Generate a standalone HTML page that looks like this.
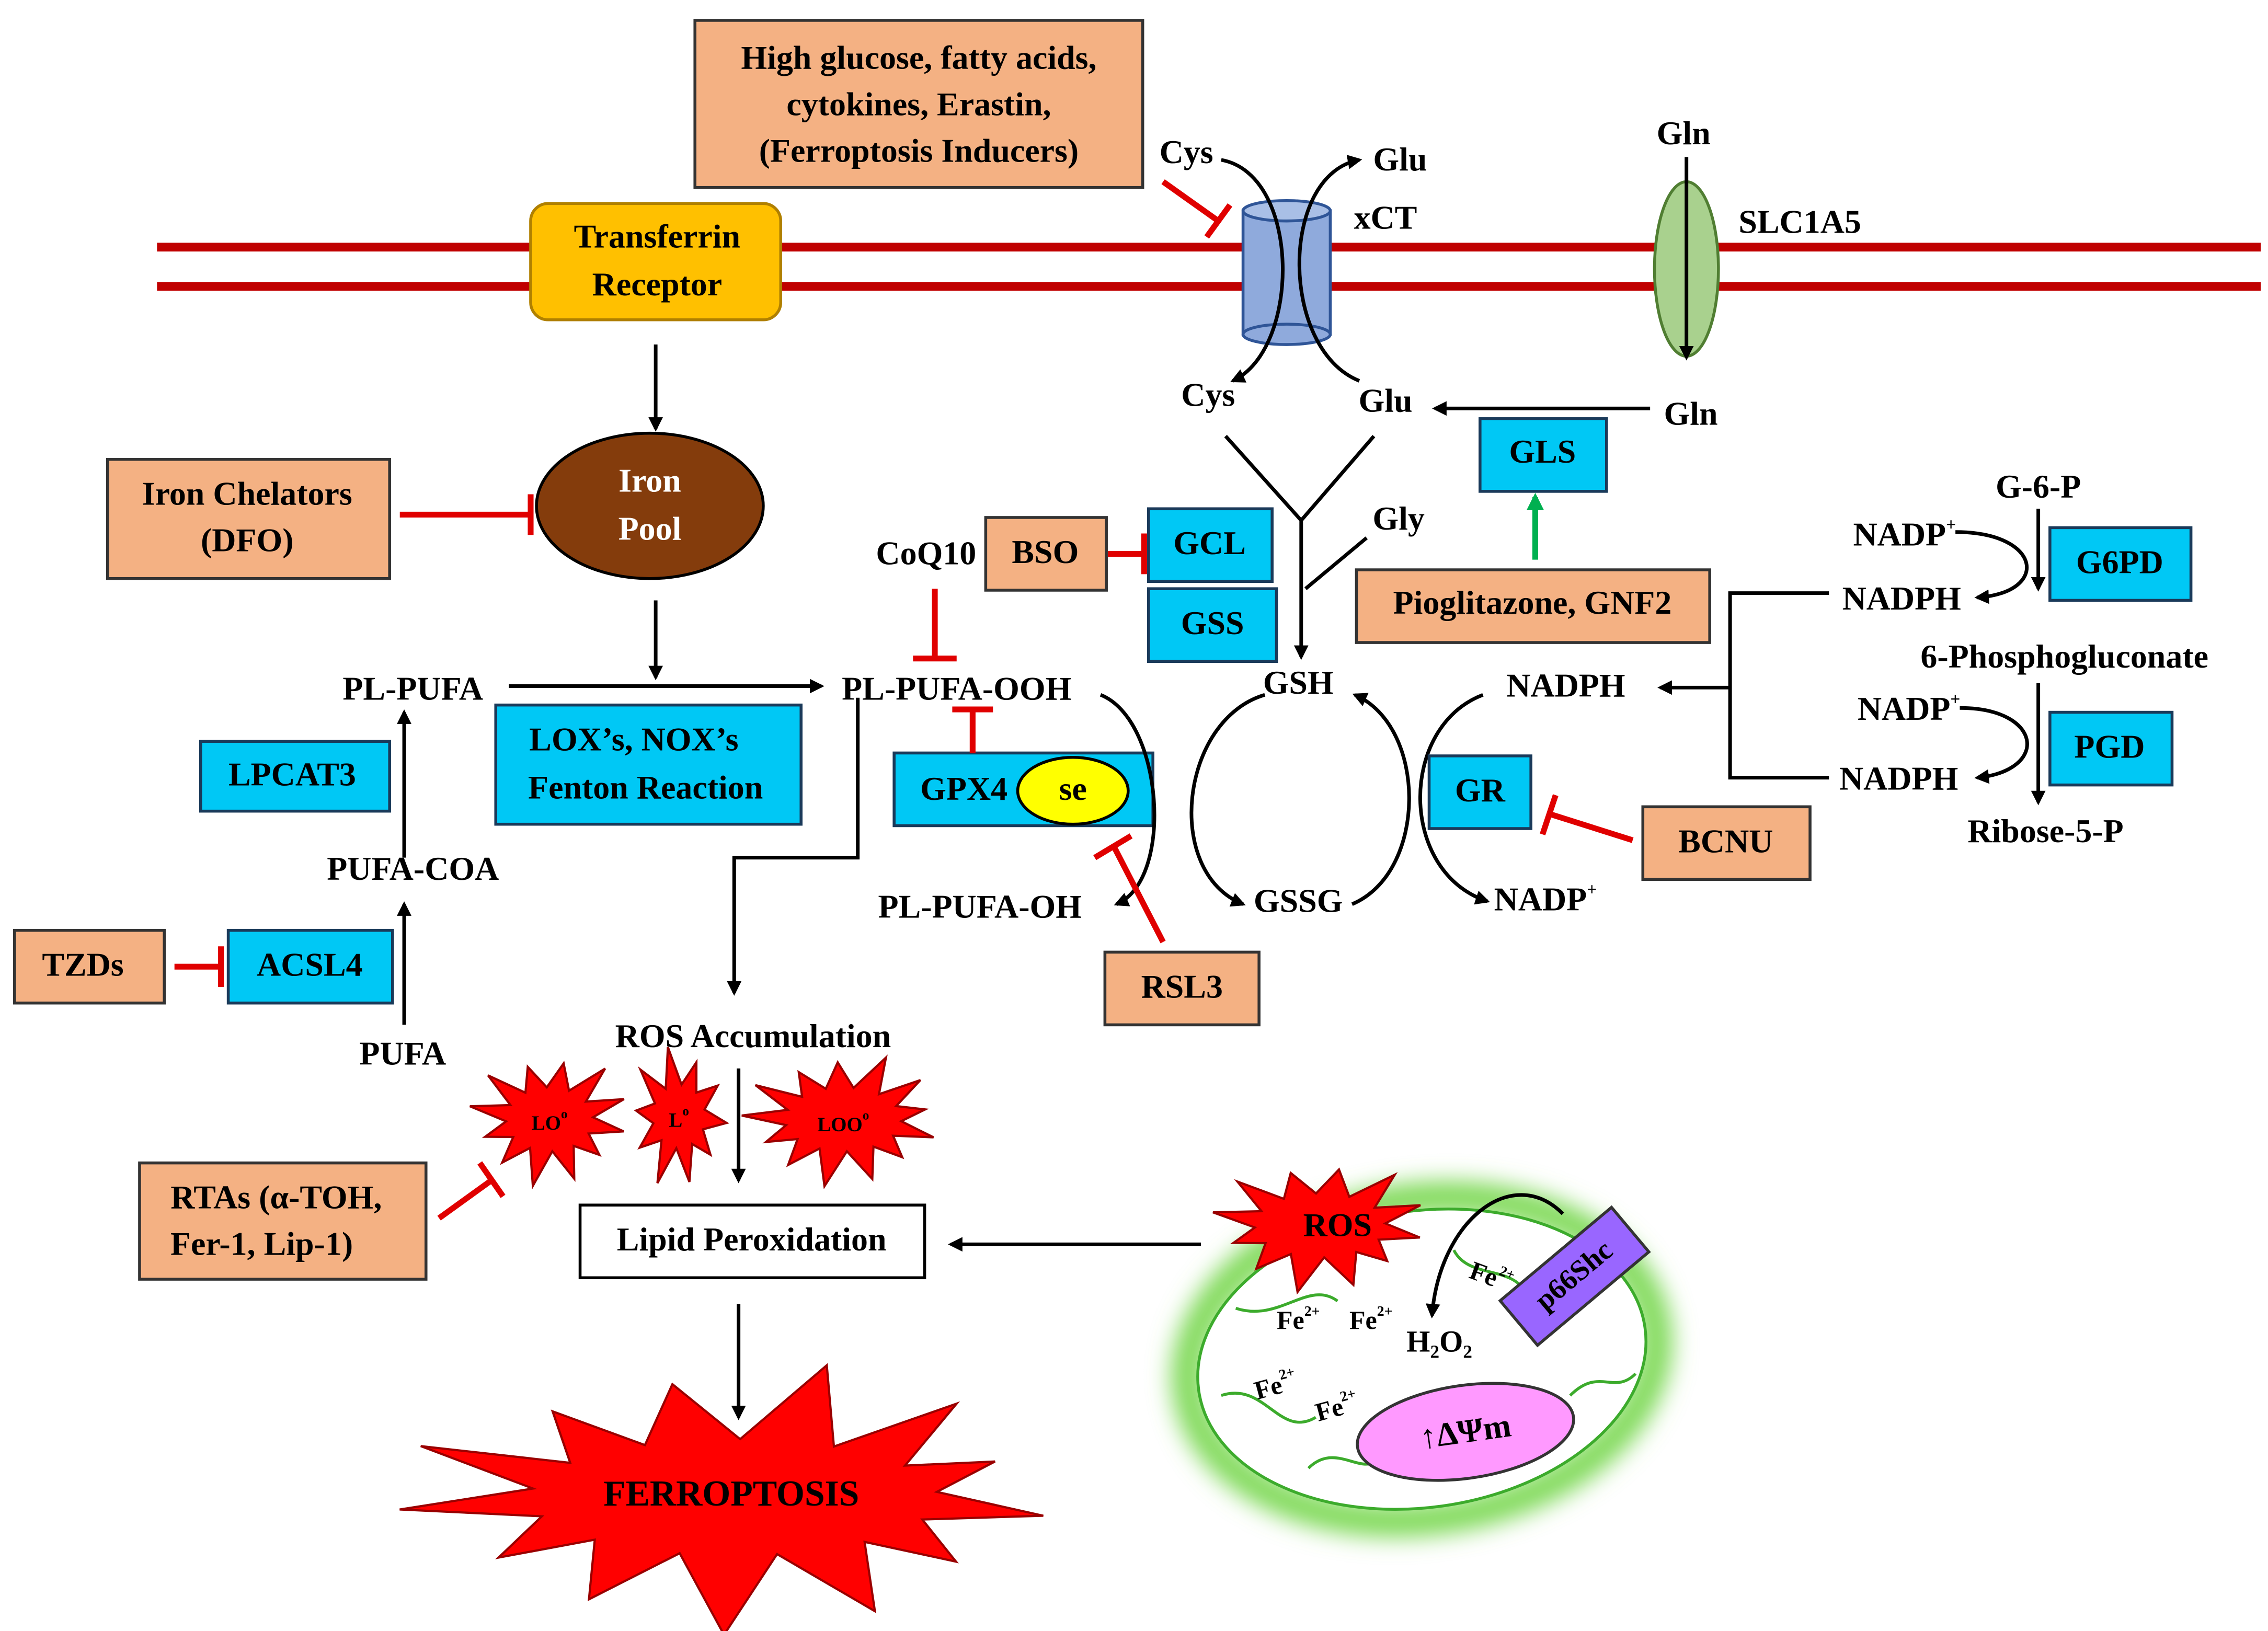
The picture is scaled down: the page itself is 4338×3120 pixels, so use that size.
<!DOCTYPE html>
<html><head><meta charset="utf-8"><style>
html,body{margin:0;padding:0;background:#fff}
svg{display:block}
text{font-family:"Liberation Serif",serif;font-weight:bold;fill:#000;text-anchor:middle;dominant-baseline:middle}
.b{stroke:#000;stroke-width:2.5;fill:none}
.r{stroke:#e00000;stroke-width:4;fill:none}
.ob{fill:#f4b183;stroke:#333;stroke-width:2}
.cb{fill:#00c8f5;stroke:#1a3a5a;stroke-width:2}
</style></head><body>
<svg id="s" width="4338" height="3120" viewBox="0 0 1560 1122" preserveAspectRatio="none" font-size="23" xmlns="http://www.w3.org/2000/svg">
<defs>
<marker id="a" markerWidth="10" markerHeight="10" refX="8" refY="5" orient="auto" markerUnits="userSpaceOnUse"><path d="M0,0 L10,5 L0,10 Z" fill="#000"/></marker>
<marker id="g" markerWidth="12" markerHeight="12" refX="9" refY="6" orient="auto" markerUnits="userSpaceOnUse"><path d="M0,0 L12,6 L0,12 Z" fill="#00b050"/></marker>
<filter id="glow" x="-30%" y="-30%" width="160%" height="160%"><feGaussianBlur stdDeviation="8"/></filter>
</defs>
<line x1="108" y1="170" x2="1555" y2="170" stroke="#c00000" stroke-width="6"/>
<line x1="108" y1="197" x2="1555" y2="197" stroke="#c00000" stroke-width="6"/>
<rect x="478" y="14" width="308" height="115" class="ob"/>
<text x="632" y="42">High glucose, fatty acids,</text>
<text x="632" y="74">cytokines, Erastin,</text>
<text x="632" y="106">(Ferroptosis Inducers)</text>
<rect x="365" y="140" width="172" height="80" rx="12" fill="#ffc000" stroke="#b08000" stroke-width="2"/>
<text x="452" y="165">Transferrin</text><text x="452" y="198">Receptor</text>
<line x1="451" y1="237" x2="451" y2="295" class="b" marker-end="url(#a)"/>
<ellipse cx="447" cy="348" rx="78" ry="50" fill="#843c0c" stroke="#000" stroke-width="2"/>
<text x="447" y="333" style="fill:#fff">Iron</text><text x="447" y="366" style="fill:#fff">Pool</text>
<line x1="451" y1="413" x2="451" y2="466" class="b" marker-end="url(#a)"/>
<rect x="74" y="316" width="194" height="82" class="ob"/>
<text x="170" y="342">Iron Chelators</text><text x="170" y="374">(DFO)</text>
<path d="M275,354 H365 M365,340 V368" class="r"/>
<rect x="855" y="145" width="60" height="85" fill="#8faadc" stroke="#2f5597" stroke-width="2"/>
<ellipse cx="885" cy="230" rx="30" ry="7" fill="#8faadc" stroke="#2f5597" stroke-width="2"/>
<ellipse cx="885" cy="145" rx="30" ry="7" fill="#a9bfe6" stroke="#2f5597" stroke-width="2"/>
<path d="M840,110 C895,120 895,240 848,262" class="b" marker-end="url(#a)"/>
<path d="M935,262 C880,240 880,120 935,110" class="b" marker-end="url(#a)"/>
<text x="816" y="107">Cys</text><text x="963" y="112">Glu</text><text x="953" y="152">xCT</text>
<text x="831" y="274">Cys</text><text x="953" y="278">Glu</text>
<path d="M800,125 L838,152 M830,163 L846,141" class="r"/>
<ellipse cx="1160" cy="185" rx="22" ry="60" fill="#a9d18e" stroke="#507e32" stroke-width="2"/>
<text x="1158" y="94">Gln</text>
<line x1="1160" y1="108" x2="1160" y2="246" class="b" marker-end="url(#a)"/>
<text x="1238" y="155">SLC1A5</text>
<text x="1163" y="287">Gln</text>
<line x1="1135" y1="281" x2="987" y2="281" class="b" marker-end="url(#a)"/>
<rect x="1018" y="288" width="87" height="50" class="cb"/><text x="1061" y="313">GLS</text>
<line x1="1056" y1="385" x2="1056" y2="342" stroke="#00b050" stroke-width="4" marker-end="url(#g)"/>
<rect x="933" y="392" width="243" height="50" class="ob"/><text x="1054" y="417">Pioglitazone, GNF2</text>
<path d="M843,300 L895,358 L945,300" class="b"/>
<line x1="895" y1="358" x2="895" y2="452" class="b" marker-end="url(#a)"/>
<line x1="940" y1="370" x2="898" y2="405" class="b"/>
<text x="962" y="359">Gly</text>
<text x="637" y="383">CoQ10</text>
<rect x="678" y="356" width="83" height="50" class="ob"/><text x="719" y="382">BSO</text>
<path d="M762,381 H786 M787,367 V395" class="r"/>
<rect x="790" y="350" width="85" height="50" class="cb"/><text x="832" y="376">GCL</text>
<rect x="790" y="405" width="88" height="50" class="cb"/><text x="834" y="431">GSS</text>
<path d="M643,405 V452 M628,453 H658" class="r"/>
<text x="284" y="476">PL-PUFA</text>
<line x1="350" y1="472" x2="565" y2="472" class="b" marker-end="url(#a)"/>
<text x="658" y="476">PL-PUFA-OOH</text>
<rect x="341" y="485" width="210" height="82" class="cb"/>
<text x="436" y="511">LOX’s, NOX’s</text><text x="444" y="544">Fenton Reaction</text>
<rect x="138" y="510" width="130" height="48" class="cb"/><text x="201" y="535">LPCAT3</text>
<line x1="278" y1="590" x2="278" y2="490" class="b" marker-end="url(#a)"/>
<text x="284" y="600">PUFA-COA</text>
<rect x="157" y="640" width="113" height="50" class="cb"/><text x="213" y="666">ACSL4</text>
<rect x="10" y="640" width="103" height="50" class="ob"/><text x="57" y="666">TZDs</text>
<path d="M120,665 H150 M152,651 V679" class="r"/>
<line x1="278" y1="705" x2="278" y2="622" class="b" marker-end="url(#a)"/>
<text x="277" y="727">PUFA</text>
<rect x="615" y="518" width="178" height="50" class="cb"/>
<ellipse cx="738" cy="544" rx="38" ry="23" fill="#ffff00" stroke="#000" stroke-width="2"/>
<text x="663" y="545">GPX4</text><text x="738" y="545">se</text>
<path d="M669,518 V489 M655,488 H683" class="r"/>
<path d="M590,480 V590 H505 V683" class="b" marker-end="url(#a)"/>
<path d="M757,478 C800,495 808,605 768,622" class="b" marker-end="url(#a)"/>
<path d="M870,478 C812,495 800,600 855,622" class="b" marker-end="url(#a)"/>
<path d="M930,622 C982,600 982,500 932,478" class="b" marker-end="url(#a)"/>
<path d="M1020,478 C962,500 962,600 1023,620" class="b" marker-end="url(#a)"/>
<text x="674" y="626">PL-PUFA-OH</text>
<text x="893" y="472">GSH</text><text x="893" y="622">GSSG</text>
<text x="1077" y="474">NADPH</text><text x="1063" y="621">NADP<tspan dy="-8" font-size="12">+</tspan></text>
<rect x="983" y="520" width="70" height="50" class="cb"/><text x="1018" y="546">GR</text>
<rect x="1130" y="555" width="115" height="50" class="ob"/><text x="1187" y="581">BCNU</text>
<path d="M1123,578 L1066,560 M1061,574 L1070,547" class="r"/>
<rect x="760" y="655" width="106" height="50" class="ob"/><text x="813" y="681">RSL3</text>
<path d="M800,648 L766,582 M753,590 L778,575" class="r"/>
<line x1="1190" y1="473" x2="1142" y2="473" class="b" marker-end="url(#a)"/>
<path d="M1258,408 H1190 V535 H1258" class="b"/>
<text x="1402" y="337">G-6-P</text>
<line x1="1402" y1="350" x2="1402" y2="405" class="b" marker-end="url(#a)"/>
<text x="1310" y="370">NADP<tspan dy="-8" font-size="12">+</tspan></text>
<text x="1308" y="414">NADPH</text>
<path d="M1345,366 C1405,366 1410,408 1360,411" class="b" marker-end="url(#a)"/>
<rect x="1410" y="363" width="97" height="50" class="cb"/><text x="1458" y="389">G6PD</text>
<text x="1420" y="454">6-Phosphogluconate</text>
<line x1="1402" y1="470" x2="1402" y2="552" class="b" marker-end="url(#a)"/>
<text x="1313" y="490">NADP<tspan dy="-8" font-size="12">+</tspan></text>
<text x="1306" y="538">NADPH</text>
<path d="M1348,487 C1405,487 1410,530 1360,535" class="b" marker-end="url(#a)"/>
<rect x="1410" y="490" width="84" height="50" class="cb"/><text x="1451" y="516">PGD</text>
<text x="1407" y="574">Ribose-5-P</text>
<text x="518" y="715">ROS Accumulation</text>
<g id="stars"></g>
<line x1="508" y1="735" x2="508" y2="812" class="b" marker-end="url(#a)"/>
<rect x="399" y="829" width="237" height="50" fill="#fff" stroke="#000" stroke-width="2"/>
<text x="517" y="855">Lipid Peroxidation</text>
<line x1="508" y1="897" x2="508" y2="975" class="b" marker-end="url(#a)"/>
<rect x="96" y="800" width="197" height="80" class="ob"/>
<text x="190" y="826">RTAs (α-TOH,</text><text x="180" y="858">Fer-1, Lip-1)</text>
<path d="M302,838 L338,812 M330,800 L346,823" class="r"/>
<line x1="826" y1="856" x2="654" y2="856" class="b" marker-end="url(#a)"/>
<ellipse cx="978" cy="935" rx="162" ry="110" fill="none" stroke="#7ed957" stroke-width="22" filter="url(#glow)" transform="rotate(-8 978 935)"/>
<ellipse cx="978" cy="935" rx="155" ry="102" fill="#fff" stroke="#3cab2c" stroke-width="2" transform="rotate(-8 978 935)"/>
<path d="M850,900 C880,910 900,880 920,895 M840,960 C870,950 880,990 905,975 M900,1010 C920,990 940,1020 950,1000 M1000,860 C1010,880 1040,870 1050,890 M1080,960 C1100,940 1110,960 1125,945" fill="none" stroke="#3cab2c" stroke-width="2"/>
<g transform="rotate(-40 1083 878)"><rect x="1033" y="858" width="100" height="40" fill="#9966ff" stroke="#333" stroke-width="2"/><text x="1083" y="879" font-size="20">p66Shc</text></g>
<ellipse cx="1008" cy="985" rx="75" ry="32" fill="#ff99ff" stroke="#333" stroke-width="2" transform="rotate(-8 1008 985)"/>
<text x="1008" y="987" transform="rotate(-8 1008 985)">↑ΔΨm</text>
<path d="M1075,835 C1040,800 990,840 985,905" class="b" marker-end="url(#a)"/>
<text x="990" y="925" font-size="21">H₂O₂</text>
<text x="893" y="910" font-size="18">Fe<tspan dy="-7" font-size="10">2+</tspan></text>
<text x="943" y="910" font-size="18">Fe<tspan dy="-7" font-size="10">2+</tspan></text>
<text x="1025" y="880" font-size="18" transform="rotate(20 1025 880)">Fe<tspan dy="-7" font-size="10">2+</tspan></text>
<text x="878" y="955" font-size="18" transform="rotate(-15 878 955)">Fe<tspan dy="-7" font-size="10">2+</tspan></text>
<text x="920" y="970" font-size="18" transform="rotate(-15 920 970)">Fe<tspan dy="-7" font-size="10">2+</tspan></text>
<g id="stars2"></g>
</svg>
<script>
function star(cx,cy,rx,ry,irx,iry,n,fill,rot){
 var p=[];for(var i=0;i<2*n;i++){var a=Math.PI*i/n+(rot||0);var o=i%2==0;var jit=o?(1+0.12*Math.sin(i*2.3)):1;
 p.push((cx+(o?rx*jit:irx)*Math.cos(a)).toFixed(1)+","+(cy+(o?ry*jit:iry)*Math.sin(a)).toFixed(1));}
 return '<polygon points="'+p.join(" ")+'" fill="'+fill+'" stroke="#900" stroke-width="1.5"/>';}
var s='';
s+=star(378,770,52,42,30,22,12,"#ff0000",0.2);
s+=star(467,768,33,45,18,22,10,"#ff0000",0.1);
s+=star(580,770,65,42,40,22,13,"#ff0000",0.3);
s+='<text x="378" y="774" font-size="14">LO<tspan dy="-7" font-size="9">o</tspan></text>';
s+='<text x="467" y="772" font-size="14">L<tspan dy="-7" font-size="9">o</tspan></text>';
s+='<text x="580" y="775" font-size="14">LOO<tspan dy="-7" font-size="9">o</tspan></text>';
s+=star(505,1030,215,85,140,40,13,"#ff0000",0.15);
s+='<text x="503" y="1030" font-size="25">FERROPTOSIS</text>';
document.getElementById('stars').innerHTML=s;
var t=star(908,843,70,42,45,22,12,"#ff0000",0.2)+'<text x="920" y="845">ROS</text>';
document.getElementById('stars2').innerHTML=t;
</script>
</body></html>
